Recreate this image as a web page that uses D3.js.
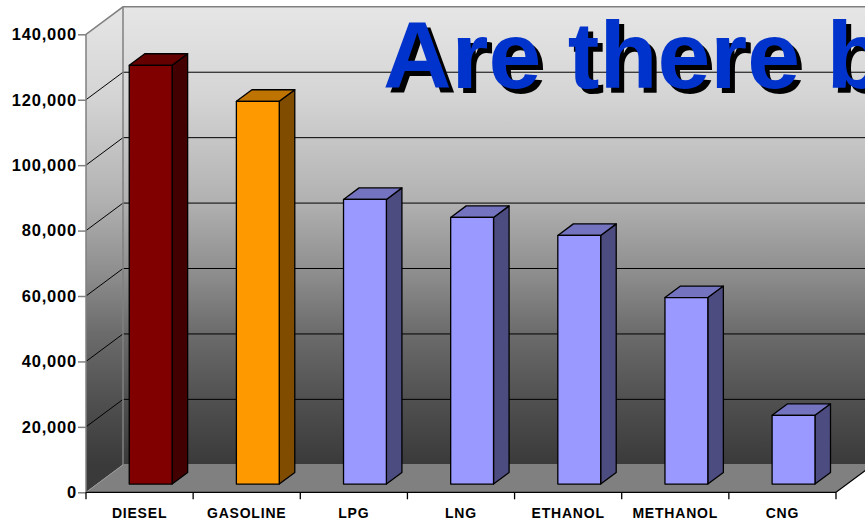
<!DOCTYPE html>
<html>
<head>
<meta charset="utf-8">
<script src="https://cdn.jsdelivr.net/npm/d3@7"></script>
<style>
  html, body { margin: 0; padding: 0; background: #ffffff; }
  svg { display: block; }
  text { font-family: "Liberation Sans", Arial, sans-serif; font-weight: bold; }
</style>
</head>
<body>
<svg id="chart" width="865" height="522"></svg>
<script>
// Fuel categories and their values
const categories = ["DIESEL", "GASOLINE", "LPG", "LNG", "ETHANOL", "METHANOL", "CNG"];
const values = [128000, 117000, 87000, 81500, 76000, 57000, 21000];
const yTicks = [0, 20000, 40000, 60000, 80000, 100000, 120000, 140000];
const titleText = "Are there b";

// Face colours (front, side, top) per fuel
const palette = {
  DIESEL:   ["#800000", "#420000", "#640000"],
  GASOLINE: ["#ff9900", "#7f4c00", "#bf7300"],
  other:    ["#9999ff", "#4c4c80", "#7373bf"]
};

const W = 865, H = 522;
const plotLeft = 86, plotRight = 836, plotBottom = 492.3, plotTop = 34.3;
const DX = 37, DY = -27.5;          // depth offset of the back wall
const zFront = 0.3, zBack = 0.72;   // bar depth within the floor

const svg = d3.select("#chart");

const x = d3.scaleBand().domain(categories).range([plotLeft, plotRight])
  .paddingInner(0.6).paddingOuter(0.3);
const y = d3.scaleLinear().domain([0, 140000]).range([plotBottom, plotTop]);
const edge = d3.scaleLinear().domain([0, categories.length]).range([plotLeft, plotRight]);

// Wall gradient
const defs = svg.append("defs");
const grad = defs.append("linearGradient").attr("id", "wall")
  .attr("gradientUnits", "userSpaceOnUse")
  .attr("x1", 0).attr("y1", plotTop + DY).attr("x2", 0).attr("y2", plotBottom + DY);
[[0, "#e6e6e6"], [0.2, "#d4d4d4"], [0.42, "#b2b2b2"], [0.58, "#8e8e8e"],
 [0.71, "#6c6c6c"], [0.86, "#505050"], [1, "#3a3a3a"]]
  .forEach(([o, c]) => grad.append("stop").attr("offset", o).attr("stop-color", c));

const line = d3.line();

// Back wall (runs off the right edge)
svg.append("path")
  .attr("d", line([[plotLeft + DX, plotTop + DY], [plotRight + DX + 40, plotTop + DY], [plotRight + DX + 40, plotBottom + DY], [plotLeft + DX, plotBottom + DY]]) + "Z")
  .attr("fill", "url(#wall)");
// Left wall
svg.append("path")
  .attr("d", line([[plotLeft, plotTop], [plotLeft + DX, plotTop + DY], [plotLeft + DX, plotBottom + DY], [plotLeft, plotBottom]]) + "Z")
  .attr("fill", "url(#wall)");
// Floor
svg.append("path")
  .attr("d", line([[plotLeft, plotBottom], [plotLeft + DX, plotBottom + DY], [plotRight + DX, plotBottom + DY], [plotRight, plotBottom]]) + "Z")
  .attr("fill", "#808080");

// Gridlines: back wall horizontals plus diagonals across the left wall
const grid = svg.append("g").attr("stroke", "#000").attr("stroke-width", 1).attr("fill", "none");
yTicks.filter(v => v > 0 && v < 140000).forEach(v => {
  const yy = y(v);
  grid.append("path").attr("d", line([[plotLeft, yy], [plotLeft + DX, yy + DY], [W + 10, yy + DY]]));
});

// Wall outlines
const frame = svg.append("g").attr("stroke", "#808080").attr("stroke-width", 1.5).attr("fill", "none");
frame.append("path").attr("d", line([[plotLeft, plotBottom], [plotLeft, plotTop], [plotLeft + DX, plotTop + DY], [W + 10, plotTop + DY]]));
frame.append("path").attr("d", line([[plotLeft + DX, plotTop + DY], [plotLeft + DX, plotBottom + DY], [plotRight + DX, plotBottom + DY]]));
svg.append("path").attr("d", line([[plotLeft, plotBottom], [plotLeft + DX, plotBottom + DY]]))
  .attr("stroke", "#999").attr("stroke-width", 1).attr("fill", "none");
svg.append("path").attr("d", line([[plotRight, plotBottom], [plotRight + DX, plotBottom + DY]]))
  .attr("stroke", "#000").attr("stroke-width", 1.2).attr("fill", "none");

// Title with drop shadow
const title = svg.append("g").attr("font-size", 95);
title.append("text").attr("x", 388).attr("y", 93).attr("fill", "#000").text(titleText);
title.append("text").attr("x", 383).attr("y", 88).attr("fill", "#0033cc").text(titleText);

// 3D bars
const bars = svg.append("g").attr("stroke", "#000").attr("stroke-width", 1.3).attr("stroke-linejoin", "round");
categories.forEach((c, i) => {
  const [front, side, topC] = palette[c] || palette.other;
  const fx = DX * zFront, fy = DY * zFront;
  const bx = DX * zBack, by = DY * zBack;
  const x0 = x(c) + fx, x1 = x(c) + x.bandwidth() + fx;
  const y0 = y(0) + fy, y1 = y(values[i]) + fy;
  const ddx = bx - fx, ddy = by - fy;
  const g = bars.append("g");
  g.append("path").attr("d", line([[x1, y0], [x1 + ddx, y0 + ddy], [x1 + ddx, y1 + ddy], [x1, y1]]) + "Z").attr("fill", side);
  g.append("path").attr("d", line([[x0, y1], [x1, y1], [x1 + ddx, y1 + ddy], [x0 + ddx, y1 + ddy]]) + "Z").attr("fill", topC);
  g.append("rect").attr("x", x0).attr("y", y1).attr("width", x1 - x0).attr("height", y0 - y1).attr("fill", front);
});

// Y axis
const yAxis = svg.append("g").attr("transform", `translate(${plotLeft},0)`)
  .call(d3.axisLeft(y).tickValues(yTicks).tickFormat(d3.format(",")).tickSize(8).tickPadding(1));
yAxis.select(".domain").remove();
yAxis.selectAll(".tick line").attr("stroke", "#808080").attr("stroke-width", 1.5);
yAxis.selectAll(".tick text").attr("font-size", 16.5).attr("letter-spacing", 0.8)
  .attr("fill", "#000").attr("font-family", "Liberation Sans, Arial, sans-serif").attr("font-weight", "bold");

// X axis: baseline, boundary ticks, centred labels
const xAxis = svg.append("g").attr("stroke", "#000").attr("stroke-width", 1.3);
xAxis.append("line").attr("x1", plotLeft).attr("x2", plotRight).attr("y1", plotBottom).attr("y2", plotBottom);
d3.range(categories.length + 1).forEach(i => {
  xAxis.append("line").attr("x1", edge(i)).attr("x2", edge(i)).attr("y1", plotBottom).attr("y2", plotBottom + 7);
});
svg.append("g").selectAll("text").data(categories).join("text")
  .attr("x", d => x(d) + x.bandwidth() / 2)
  .attr("y", 517.5)
  .attr("text-anchor", "middle")
  .attr("font-size", 14)
  .attr("letter-spacing", 0.8)
  .attr("fill", "#000")
  .text(d => d);
</script>
</body>
</html>
